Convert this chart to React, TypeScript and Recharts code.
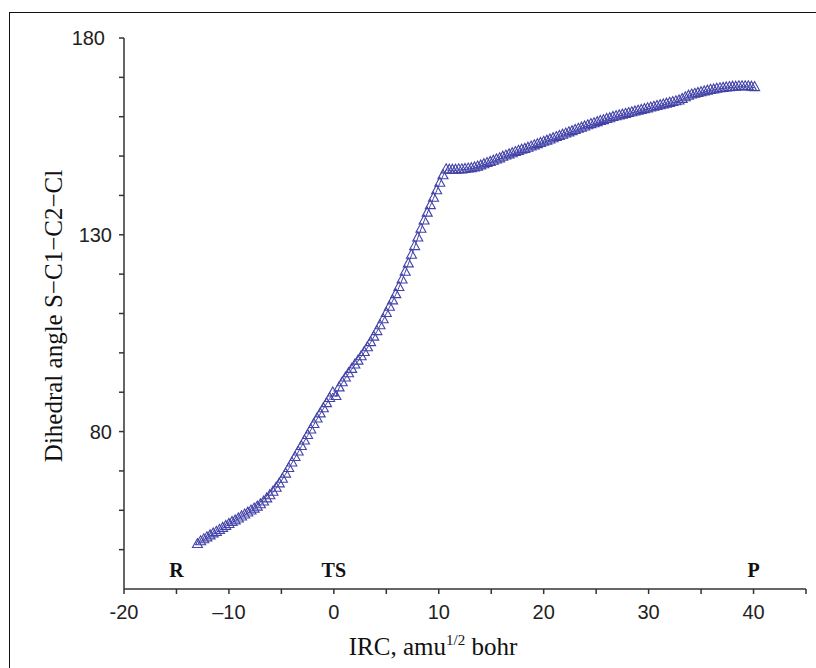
import React from "react";
import { LineChart, Line, XAxis, YAxis, ReferenceDot } from "recharts";

// IRC coordinate (amu^1/2 bohr)
const irc = [
  -13.0, -12.7, -12.4, -12.1, -11.8, -11.5, -11.2, -10.9, -10.6, -10.3,
  -10.0, -9.7, -9.4, -9.1, -8.8, -8.5, -8.2, -7.9, -7.6, -7.3,
  -7.0, -6.7, -6.4, -6.1, -5.8, -5.5, -5.2, -4.9, -4.6, -4.3,
  -4.0, -3.7, -3.4, -3.1, -2.8, -2.5, -2.2, -1.9, -1.6, -1.3,
  -1.0, -0.7, -0.4, -0.1, 0.2, 0.5, 0.8, 1.1, 1.4, 1.7,
  2.0, 2.3, 2.6, 2.9, 3.2, 3.5, 3.8, 4.1, 4.4, 4.7,
  5.0, 5.3, 5.6, 5.9, 6.2, 6.5, 6.8, 7.1, 7.4, 7.7,
  8.0, 8.3, 8.6, 8.9, 9.2, 9.5, 9.8, 10.1, 10.4, 10.7,
  11.0, 11.3, 11.6, 11.9, 12.2, 12.5, 12.8, 13.1, 13.4, 13.7,
  14.0, 14.3, 14.6, 14.9, 15.2, 15.5, 15.8, 16.1, 16.4, 16.7,
  17.0, 17.3, 17.6, 17.9, 18.2, 18.5, 18.8, 19.1, 19.4, 19.7,
  20.0, 20.3, 20.6, 20.9, 21.2, 21.5, 21.8, 22.1, 22.4, 22.7,
  23.0, 23.3, 23.6, 23.9, 24.2, 24.5, 24.8, 25.1, 25.4, 25.7,
  26.0, 26.3, 26.6, 26.9, 27.2, 27.5, 27.8, 28.1, 28.4, 28.7,
  29.0, 29.3, 29.6, 29.9, 30.2, 30.5, 30.8, 31.1, 31.4, 31.7,
  32.0, 32.3, 32.6, 32.9, 33.2, 33.5, 33.8, 34.1, 34.4, 34.7,
  35.0, 35.3, 35.6, 35.9, 36.2, 36.5, 36.8, 37.1, 37.4, 37.7,
  38.0, 38.3, 38.6, 38.9, 39.2, 39.5, 39.8, 40.1,
];

// dihedral angle S-C1-C2-Cl (deg)
const dihedral = [
  51.3, 52.0, 52.5, 53.0, 53.5, 54.0, 54.4, 54.9, 55.4, 55.9,
  56.4, 56.9, 57.3, 57.8, 58.3, 58.8, 59.3, 59.8, 60.3, 60.8,
  61.4, 62.1, 62.9, 63.7, 64.6, 65.6, 66.7, 67.9, 69.2, 70.6,
  72.0, 73.4, 74.8, 76.2, 77.6, 79.0, 80.4, 81.8, 83.2, 84.5,
  85.8, 87.1, 88.4, 89.8, 88.9, 91.1, 92.4, 93.6, 94.7, 95.8,
  96.9, 97.9, 99.0, 100.1, 101.3, 102.6, 104.0, 105.4, 106.9, 108.4,
  110.0, 111.6, 113.2, 114.8, 116.6, 118.5, 120.5, 122.6, 124.8, 127.0,
  129.2, 131.4, 133.5, 135.5, 137.4, 139.3, 141.2, 143.1, 145.0, 146.5,
  146.4, 146.4, 146.4, 146.5, 146.5, 146.6, 146.7, 146.8, 147.0, 147.2,
  147.5, 147.8, 148.1, 148.4, 148.7, 149.0, 149.3, 149.7, 150.0, 150.3,
  150.6, 150.9, 151.2, 151.5, 151.7, 152.0, 152.3, 152.6, 152.9, 153.2,
  153.5, 153.8, 154.1, 154.4, 154.7, 155.0, 155.3, 155.6, 155.9, 156.2,
  156.5, 156.8, 157.1, 157.4, 157.7, 158.0, 158.2, 158.5, 158.8, 159.0,
  159.3, 159.5, 159.8, 160.0, 160.2, 160.4, 160.6, 160.8, 161.0, 161.2,
  161.4, 161.6, 161.8, 162.0, 162.2, 162.4, 162.6, 162.8, 163.0, 163.2,
  163.4, 163.6, 163.8, 164.0, 164.4, 164.8, 165.2, 165.5, 165.7, 165.9,
  166.1, 166.3, 166.5, 166.7, 166.8, 167.0, 167.1, 167.2, 167.3, 167.4,
  167.5, 167.5, 167.6, 167.6, 167.6, 167.6, 167.5, 167.4,
];

const xTicks = [-20, -15, -10, -5, 0, 5, 10, 15, 20, 25, 30, 35, 40, 45];
const xLabelValues = [-20, -10, 0, 10, 20, 30, 40];
const xLabelText = ["-20", "\u201310", "0", "10", "20", "30", "40"];

const yTicks = [50, 60, 70, 80, 90, 100, 110, 120, 130, 140, 150, 160, 170, 180];
const yLabelValues = [80, 130, 180];

// path point labels: reactant, transition state, product
const pointNames = ["R", "TS", "P"];
const pointIrc = [-15, 0, 40];
const pointY = 45;

const data = irc.map((x, i) => ({ x, y: dihedral[i] }));

const BLUE = "#4242a8";
const AXIS = "#333";
const SANS = "'Liberation Sans', Arial, sans-serif";
const SERIF = "'Liberation Serif', 'Times New Roman', serif";

const Triangle = (props: any) => {
  const { cx, cy, index } = props;
  if (cx == null || cy == null) return <g key={index} />;
  return (
    <path
      key={index}
      d={`M${cx},${cy - 6}L${cx + 5},${cy + 3}L${cx - 5},${cy + 3}Z`}
      fill="none"
      stroke={BLUE}
      strokeWidth={1.1}
    />
  );
};

const YTick = (props: any) => {
  const { x, y, payload } = props;
  const v = payload.value;
  if (!yLabelValues.includes(v)) return <g />;
  // the top label sits a bit further left in the original
  const shift = v === 180 ? -7 : 0;
  return (
    <text x={x + shift} y={y} dy="0.36em" textAnchor="end" fill="#222" fontSize={20} fontFamily={SANS}>
      {v}
    </text>
  );
};

const xFormat = (v: number) => {
  const i = xLabelValues.indexOf(v);
  return i >= 0 ? xLabelText[i] : "";
};

const PointName = (name: string) => (props: any) => (
  <text
    x={props.cx}
    y={props.cy}
    dy="0.36em"
    textAnchor="middle"
    fontSize={20}
    fontWeight="bold"
    fontFamily={SERIF}
    fill="#111"
  >
    {name}
  </text>
);

export default function App() {
  return (
    <div
      style={{
        position: "fixed",
        left: 0,
        top: 0,
        width: 816,
        height: 668,
        background: "#fff",
        overflow: "hidden",
      }}
    >
      <div
        style={{
          position: "absolute",
          left: 9,
          top: 12,
          width: 900,
          height: 900,
          borderLeft: "1.5px solid #111",
          borderTop: "1.5px solid #111",
        }}
      />
      <div style={{ position: "absolute", left: 0, top: 0 }}>
        <LineChart width={816} height={668} data={data} margin={{ top: 38, right: 10, bottom: 39, left: 64 }}>
          <XAxis
            type="number"
            dataKey="x"
            domain={[-20, 45]}
            ticks={xTicks}
            interval={0}
            tickFormatter={xFormat}
            height={40}
            tickSize={5}
            tickMargin={11}
            stroke={AXIS}
            strokeWidth={1.5}
            tick={{ fill: "#222", fontSize: 20, fontFamily: SANS }}
          />
          <YAxis
            type="number"
            domain={[40, 180]}
            ticks={yTicks}
            interval={0}
            width={60}
            tickSize={5}
            tickMargin={7}
            stroke={AXIS}
            strokeWidth={1.5}
            tick={YTick}
          />
          <Line
            type="linear"
            dataKey="y"
            stroke={BLUE}
            strokeWidth={1}
            dot={Triangle}
            activeDot={false}
            isAnimationActive={false}
          />
          {pointNames.map((name, i) => (
            <ReferenceDot key={name} x={pointIrc[i]} y={pointY} r={1} shape={PointName(name)} />
          ))}
        </LineChart>
      </div>
      <svg width={816} height={668} style={{ position: "absolute", left: 0, top: 0, pointerEvents: "none" }}>
        <text
          x={62}
          y={316}
          transform="rotate(-90 62 316)"
          textAnchor="middle"
          fontSize={25}
          fontFamily={SERIF}
          fill="#111"
        >
          Dihedral angle S{"\u2212"}C1{"\u2212"}C2{"\u2212"}Cl
        </text>
        <text x={433} y={655} textAnchor="middle" fontSize={25} fontFamily={SERIF} fill="#111">
          IRC, amu
          <tspan fontSize={15} dy={-10}>
            1/2
          </tspan>
          <tspan dy={10}> bohr</tspan>
        </text>
      </svg>
    </div>
  );
}
